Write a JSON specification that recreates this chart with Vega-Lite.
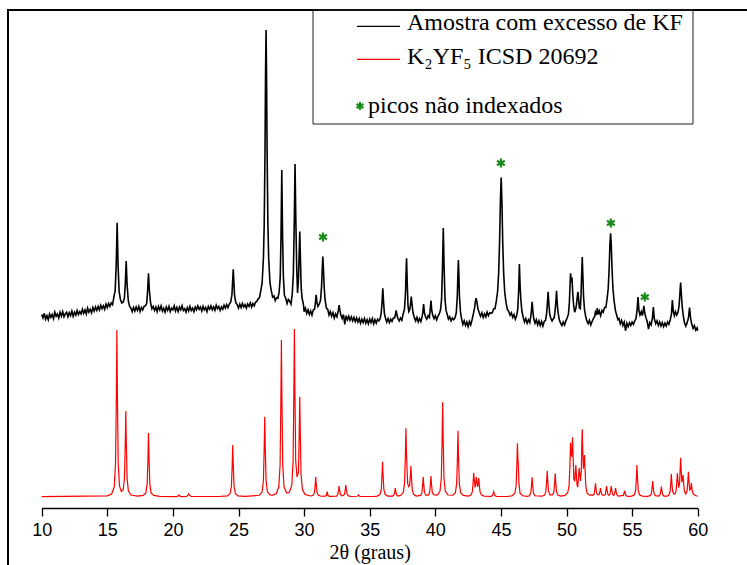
{
  "$schema": "https://vega.github.io/schema/vega-lite/v6.json",
  "width": 739,
  "height": 555,
  "autosize": {"type": "none"},
  "padding": {"left": 8, "top": 10, "right": 0, "bottom": 0},
  "background": "white",
  "config": {
    "view": {"stroke": "black", "strokeWidth": 2, "strokeDash": [739, 1294, 556]},
    "font": "Liberation Serif"
  },
  "datasets": {
    "amostra": [
      {"tt":10.0,"I":47.5},{"tt":10.1,"I":46.9},{"tt":10.2,"I":47.7},{"tt":10.3,"I":46.7},{"tt":10.4,"I":47.3},{"tt":10.5,"I":46.6},{"tt":10.6,"I":47.6},{"tt":10.7,"I":47.0},{"tt":10.8,"I":47.5},{"tt":10.9,"I":46.8},
      {"tt":11.0,"I":47.9},{"tt":11.1,"I":47.2},{"tt":11.2,"I":47.6},{"tt":11.3,"I":46.9},{"tt":11.4,"I":47.9},{"tt":11.5,"I":47.2},{"tt":11.6,"I":48.0},{"tt":11.7,"I":47.1},{"tt":11.8,"I":47.6},{"tt":11.9,"I":47.9},
      {"tt":12.0,"I":47.1},{"tt":12.1,"I":47.8},{"tt":12.2,"I":47.3},{"tt":12.3,"I":48.1},{"tt":12.4,"I":47.2},{"tt":12.5,"I":47.9},{"tt":12.6,"I":47.4},{"tt":12.7,"I":48.2},{"tt":12.8,"I":47.5},{"tt":12.9,"I":48.0},
      {"tt":13.0,"I":47.6},{"tt":13.1,"I":48.4},{"tt":13.2,"I":47.7},{"tt":13.3,"I":48.3},{"tt":13.4,"I":47.6},{"tt":13.5,"I":48.6},{"tt":13.6,"I":47.9},{"tt":13.7,"I":48.4},{"tt":13.8,"I":47.8},{"tt":13.9,"I":48.7},
      {"tt":14.0,"I":48.1},{"tt":14.1,"I":48.8},{"tt":14.2,"I":48.2},{"tt":14.3,"I":48.9},{"tt":14.4,"I":48.3},{"tt":14.5,"I":49.1},{"tt":14.6,"I":48.5},{"tt":14.7,"I":49.0},{"tt":14.8,"I":48.4},{"tt":14.9,"I":49.3},
      {"tt":15.0,"I":48.7},{"tt":15.1,"I":49.4},{"tt":15.2,"I":48.9},{"tt":15.3,"I":49.5},{"tt":15.4,"I":49.2},{"tt":15.5,"I":50.5},{"tt":15.6,"I":51.6},{"tt":15.68,"I":56.1},{"tt":15.75,"I":63.3},{"tt":15.82,"I":56.0},
      {"tt":15.9,"I":51.5},{"tt":16.0,"I":50.1},{"tt":16.1,"I":49.5},{"tt":16.2,"I":49.6},{"tt":16.3,"I":50.3},{"tt":16.37,"I":52.7},{"tt":16.44,"I":56.7},{"tt":16.51,"I":52.6},{"tt":16.6,"I":49.9},{"tt":16.7,"I":48.9},
      {"tt":16.8,"I":48.6},{"tt":16.9,"I":48.0},{"tt":17.0,"I":48.7},{"tt":17.1,"I":48.1},{"tt":17.2,"I":48.8},{"tt":17.3,"I":48.2},{"tt":17.4,"I":48.9},{"tt":17.5,"I":48.0},{"tt":17.6,"I":48.7},{"tt":17.7,"I":48.3},
      {"tt":17.8,"I":48.9},{"tt":17.9,"I":49.0},{"tt":18.0,"I":49.4},{"tt":18.07,"I":51.5},{"tt":18.14,"I":54.6},{"tt":18.21,"I":51.5},{"tt":18.3,"I":49.5},{"tt":18.4,"I":48.5},{"tt":18.5,"I":48.9},{"tt":18.6,"I":48.2},
      {"tt":18.7,"I":48.8},{"tt":18.8,"I":48.0},{"tt":18.9,"I":48.9},{"tt":19.0,"I":48.3},{"tt":19.1,"I":49.0},{"tt":19.2,"I":48.1},{"tt":19.3,"I":48.6},{"tt":19.4,"I":47.9},{"tt":19.5,"I":48.8},{"tt":19.6,"I":48.2},
      {"tt":19.7,"I":48.9},{"tt":19.8,"I":48.0},{"tt":19.9,"I":48.6},{"tt":20.0,"I":48.3},{"tt":20.1,"I":49.0},{"tt":20.2,"I":48.1},{"tt":20.3,"I":48.7},{"tt":20.4,"I":48.0},{"tt":20.5,"I":48.8},{"tt":20.6,"I":48.3},
      {"tt":20.7,"I":49.0},{"tt":20.8,"I":48.2},{"tt":20.9,"I":48.5},{"tt":21.0,"I":47.9},{"tt":21.1,"I":48.7},{"tt":21.2,"I":48.1},{"tt":21.3,"I":48.9},{"tt":21.4,"I":48.2},{"tt":21.5,"I":48.6},{"tt":21.6,"I":48.0},
      {"tt":21.7,"I":48.8},{"tt":21.8,"I":48.3},{"tt":21.9,"I":49.0},{"tt":22.0,"I":48.4},{"tt":22.1,"I":48.8},{"tt":22.2,"I":48.1},{"tt":22.3,"I":48.9},{"tt":22.4,"I":48.3},{"tt":22.5,"I":48.7},{"tt":22.6,"I":48.0},
      {"tt":22.7,"I":48.9},{"tt":22.8,"I":48.4},{"tt":22.9,"I":49.0},{"tt":23.0,"I":48.3},{"tt":23.1,"I":48.8},{"tt":23.2,"I":48.2},{"tt":23.3,"I":49.1},{"tt":23.4,"I":48.5},{"tt":23.5,"I":48.9},{"tt":23.6,"I":48.2},
      {"tt":23.7,"I":48.8},{"tt":23.8,"I":48.4},{"tt":23.9,"I":49.1},{"tt":24.0,"I":48.6},{"tt":24.1,"I":49.2},{"tt":24.2,"I":48.7},{"tt":24.3,"I":49.3},{"tt":24.4,"I":49.6},{"tt":24.5,"I":50.9},{"tt":24.55,"I":53.1},
      {"tt":24.6,"I":55.3},{"tt":24.65,"I":53.0},{"tt":24.7,"I":50.8},{"tt":24.8,"I":49.5},{"tt":24.9,"I":49.2},{"tt":25.0,"I":48.6},{"tt":25.1,"I":49.3},{"tt":25.2,"I":48.7},{"tt":25.3,"I":49.4},{"tt":25.4,"I":48.8},
      {"tt":25.5,"I":49.2},{"tt":25.6,"I":48.6},{"tt":25.7,"I":49.3},{"tt":25.8,"I":48.9},{"tt":25.9,"I":49.5},{"tt":26.0,"I":48.8},{"tt":26.1,"I":49.4},{"tt":26.2,"I":49.0},{"tt":26.3,"I":49.6},{"tt":26.4,"I":49.8},
      {"tt":26.5,"I":50.2},{"tt":26.6,"I":50.4},{"tt":26.7,"I":51.6},{"tt":26.8,"I":52.9},{"tt":26.9,"I":57.3},{"tt":26.96,"I":63.0},{"tt":27.02,"I":75.6},{"tt":27.06,"I":88.7},{"tt":27.1,"I":96.55},{"tt":27.14,"I":88.6},
      {"tt":27.18,"I":75.5},{"tt":27.24,"I":63.0},{"tt":27.3,"I":57.2},{"tt":27.4,"I":52.9},{"tt":27.5,"I":51.6},{"tt":27.6,"I":50.5},{"tt":27.7,"I":50.7},{"tt":27.8,"I":49.9},{"tt":27.9,"I":50.4},{"tt":28.0,"I":50.3},
      {"tt":28.1,"I":51.4},{"tt":28.18,"I":53.9},{"tt":28.24,"I":60.9},{"tt":28.3,"I":72.4},{"tt":28.36,"I":60.9},{"tt":28.42,"I":54.0},{"tt":28.5,"I":50.8},{"tt":28.6,"I":50.3},{"tt":28.7,"I":49.4},{"tt":28.8,"I":50.1},
      {"tt":28.9,"I":49.8},{"tt":29.0,"I":49.3},{"tt":29.1,"I":51.1},{"tt":29.18,"I":54.5},{"tt":29.25,"I":63.2},{"tt":29.31,"I":73.45},{"tt":29.37,"I":63.8},{"tt":29.44,"I":55.3},{"tt":29.5,"I":51.2},{"tt":29.57,"I":53.5},
      {"tt":29.62,"I":57.6},{"tt":29.67,"I":61.8},{"tt":29.72,"I":57.2},{"tt":29.78,"I":52.0},{"tt":29.85,"I":50.3},{"tt":29.95,"I":49.2},{"tt":30.0,"I":48.0},{"tt":30.1,"I":48.6},{"tt":30.2,"I":47.7},{"tt":30.3,"I":48.3},
      {"tt":30.4,"I":47.5},{"tt":30.5,"I":48.1},{"tt":30.6,"I":47.4},{"tt":30.7,"I":48.3},{"tt":30.8,"I":48.4},{"tt":30.86,"I":49.5},{"tt":30.92,"I":50.9},{"tt":30.98,"I":49.6},{"tt":31.05,"I":48.9},{"tt":31.15,"I":49.3},
      {"tt":31.25,"I":49.9},{"tt":31.33,"I":52.3},{"tt":31.38,"I":55.2},{"tt":31.43,"I":57.5},{"tt":31.48,"I":55.1},{"tt":31.53,"I":52.2},{"tt":31.6,"I":50.0},{"tt":31.7,"I":48.6},{"tt":31.8,"I":48.4},{"tt":31.9,"I":47.4},
      {"tt":32.0,"I":48.0},{"tt":32.1,"I":47.2},{"tt":32.2,"I":47.8},{"tt":32.3,"I":46.9},{"tt":32.4,"I":47.6},{"tt":32.5,"I":47.1},{"tt":32.55,"I":47.6},{"tt":32.61,"I":48.2},{"tt":32.67,"I":49.1},{"tt":32.73,"I":48.2},
      {"tt":32.8,"I":47.4},{"tt":32.9,"I":46.8},{"tt":33.0,"I":47.5},{"tt":33.1,"I":45.8},{"tt":33.2,"I":47.3},{"tt":33.3,"I":46.6},{"tt":33.4,"I":47.2},{"tt":33.5,"I":46.5},{"tt":33.6,"I":47.1},{"tt":33.7,"I":46.4},
      {"tt":33.8,"I":47.0},{"tt":33.9,"I":46.3},{"tt":34.0,"I":46.9},{"tt":34.1,"I":46.2},{"tt":34.2,"I":46.8},{"tt":34.3,"I":46.0},{"tt":34.4,"I":46.7},{"tt":34.5,"I":46.1},{"tt":34.6,"I":46.8},{"tt":34.7,"I":46.0},
      {"tt":34.8,"I":46.6},{"tt":34.9,"I":45.9},{"tt":35.0,"I":46.7},{"tt":35.1,"I":46.1},{"tt":35.2,"I":46.8},{"tt":35.3,"I":45.9},{"tt":35.4,"I":46.6},{"tt":35.5,"I":46.0},{"tt":35.6,"I":46.7},{"tt":35.7,"I":46.4},
      {"tt":35.8,"I":46.8},{"tt":35.88,"I":47.8},{"tt":35.94,"I":49.6},{"tt":36.0,"I":52.0},{"tt":36.06,"I":49.5},{"tt":36.12,"I":47.7},{"tt":36.2,"I":46.9},{"tt":36.3,"I":46.2},{"tt":36.4,"I":46.8},{"tt":36.5,"I":46.1},
      {"tt":36.6,"I":46.7},{"tt":36.7,"I":46.3},{"tt":36.8,"I":46.9},{"tt":36.9,"I":46.9},{"tt":36.96,"I":47.5},{"tt":37.02,"I":48.2},{"tt":37.08,"I":47.4},{"tt":37.15,"I":46.8},{"tt":37.25,"I":46.4},{"tt":37.35,"I":46.9},
      {"tt":37.45,"I":46.5},{"tt":37.55,"I":47.6},{"tt":37.65,"I":48.4},{"tt":37.73,"I":51.3},{"tt":37.77,"I":54.7},{"tt":37.81,"I":57.2},{"tt":37.86,"I":53.0},{"tt":37.92,"I":49.0},{"tt":37.98,"I":48.0},{"tt":38.05,"I":48.3},
      {"tt":38.11,"I":49.3},{"tt":38.17,"I":50.6},{"tt":38.23,"I":49.2},{"tt":38.3,"I":47.8},{"tt":38.4,"I":47.0},{"tt":38.5,"I":46.4},{"tt":38.6,"I":47.0},{"tt":38.7,"I":46.2},{"tt":38.8,"I":46.8},{"tt":38.9,"I":46.3},
      {"tt":39.0,"I":47.2},{"tt":39.05,"I":47.9},{"tt":39.11,"I":49.3},{"tt":39.17,"I":47.8},{"tt":39.25,"I":47.1},{"tt":39.35,"I":46.7},{"tt":39.45,"I":47.3},{"tt":39.55,"I":47.0},{"tt":39.61,"I":48.3},{"tt":39.67,"I":49.9},
      {"tt":39.73,"I":48.2},{"tt":39.8,"I":47.4},{"tt":39.9,"I":46.8},{"tt":40.0,"I":47.3},{"tt":40.1,"I":46.6},{"tt":40.2,"I":47.2},{"tt":40.3,"I":47.6},{"tt":40.4,"I":48.3},{"tt":40.48,"I":50.2},{"tt":40.55,"I":55.8},
      {"tt":40.61,"I":62.4},{"tt":40.67,"I":55.7},{"tt":40.74,"I":50.1},{"tt":40.82,"I":48.2},{"tt":40.92,"I":47.4},{"tt":41.0,"I":46.7},{"tt":41.1,"I":47.1},{"tt":41.2,"I":46.4},{"tt":41.3,"I":46.9},{"tt":41.4,"I":46.6},
      {"tt":41.5,"I":46.9},{"tt":41.6,"I":47.8},{"tt":41.68,"I":50.8},{"tt":41.72,"I":54.2},{"tt":41.76,"I":56.9},{"tt":41.8,"I":54.1},{"tt":41.84,"I":50.7},{"tt":41.92,"I":47.9},{"tt":42.0,"I":46.8},{"tt":42.1,"I":45.8},
      {"tt":42.2,"I":46.4},{"tt":42.3,"I":45.6},{"tt":42.4,"I":46.2},{"tt":42.5,"I":45.4},{"tt":42.6,"I":46.3},{"tt":42.7,"I":45.7},{"tt":42.8,"I":46.6},{"tt":42.9,"I":47.6},{"tt":43.0,"I":48.7},{"tt":43.05,"I":49.7},
      {"tt":43.11,"I":50.3},{"tt":43.18,"I":49.6},{"tt":43.25,"I":48.5},{"tt":43.35,"I":47.8},{"tt":43.45,"I":47.2},{"tt":43.55,"I":47.8},{"tt":43.65,"I":47.0},{"tt":43.75,"I":47.6},{"tt":43.85,"I":47.1},{"tt":43.95,"I":47.9},
      {"tt":44.05,"I":47.3},{"tt":44.15,"I":47.8},{"tt":44.25,"I":47.7},{"tt":44.35,"I":47.8},{"tt":44.45,"I":48.5},{"tt":44.55,"I":48.5},{"tt":44.65,"I":49.8},{"tt":44.75,"I":51.5},{"tt":44.83,"I":54.7},{"tt":44.9,"I":60.0},
      {"tt":44.96,"I":66.8},{"tt":45.02,"I":71.1},{"tt":45.08,"I":66.7},{"tt":45.14,"I":59.9},{"tt":45.21,"I":54.6},{"tt":45.29,"I":51.4},{"tt":45.39,"I":49.5},{"tt":45.49,"I":48.4},{"tt":45.6,"I":48.0},{"tt":45.7,"I":47.4},
      {"tt":45.8,"I":47.8},{"tt":45.9,"I":47.0},{"tt":46.0,"I":47.5},{"tt":46.1,"I":46.7},{"tt":46.2,"I":47.3},{"tt":46.28,"I":48.3},{"tt":46.35,"I":51.4},{"tt":46.41,"I":56.2},{"tt":46.47,"I":52.0},{"tt":46.53,"I":49.8},
      {"tt":46.6,"I":48.1},{"tt":46.7,"I":47.0},{"tt":46.8,"I":46.2},{"tt":46.9,"I":46.8},{"tt":47.0,"I":46.0},{"tt":47.1,"I":46.6},{"tt":47.2,"I":46.1},{"tt":47.26,"I":46.9},{"tt":47.32,"I":48.0},{"tt":47.38,"I":49.7},
      {"tt":47.44,"I":48.0},{"tt":47.5,"I":46.8},{"tt":47.6,"I":46.0},{"tt":47.7,"I":46.6},{"tt":47.8,"I":45.7},{"tt":47.9,"I":46.4},{"tt":48.0,"I":45.6},{"tt":48.1,"I":46.3},{"tt":48.2,"I":45.5},{"tt":48.3,"I":46.3},
      {"tt":48.4,"I":46.5},{"tt":48.48,"I":47.6},{"tt":48.54,"I":49.3},{"tt":48.6,"I":51.4},{"tt":48.66,"I":49.2},{"tt":48.72,"I":47.6},{"tt":48.8,"I":46.9},{"tt":48.9,"I":46.4},{"tt":49.0,"I":46.8},{"tt":49.06,"I":46.9},
      {"tt":49.12,"I":47.9},{"tt":49.18,"I":49.4},{"tt":49.24,"I":51.6},{"tt":49.3,"I":49.2},{"tt":49.36,"I":47.8},{"tt":49.45,"I":46.6},{"tt":49.55,"I":46.0},{"tt":49.65,"I":45.6},{"tt":49.75,"I":46.2},{"tt":49.85,"I":45.7},
      {"tt":49.95,"I":46.4},{"tt":50.05,"I":46.9},{"tt":50.15,"I":47.6},{"tt":50.22,"I":49.6},{"tt":50.27,"I":52.6},{"tt":50.31,"I":54.6},{"tt":50.36,"I":53.4},{"tt":50.42,"I":53.6},{"tt":50.48,"I":51.0},{"tt":50.55,"I":49.0},
      {"tt":50.62,"I":47.9},{"tt":50.7,"I":48.4},{"tt":50.76,"I":49.2},{"tt":50.82,"I":50.5},{"tt":50.87,"I":51.4},{"tt":50.92,"I":50.2},{"tt":50.98,"I":48.6},{"tt":51.05,"I":48.5},{"tt":51.1,"I":50.5},{"tt":51.15,"I":54.0},
      {"tt":51.2,"I":57.4},{"tt":51.25,"I":54.0},{"tt":51.3,"I":50.6},{"tt":51.37,"I":48.4},{"tt":51.45,"I":47.3},{"tt":51.55,"I":46.4},{"tt":51.65,"I":45.9},{"tt":51.75,"I":46.5},{"tt":51.85,"I":45.7},{"tt":51.95,"I":46.3},
      {"tt":52.05,"I":46.8},{"tt":52.15,"I":47.2},{"tt":52.2,"I":47.9},{"tt":52.28,"I":47.4},{"tt":52.35,"I":48.6},{"tt":52.42,"I":47.5},{"tt":52.5,"I":48.1},{"tt":52.6,"I":47.3},{"tt":52.7,"I":48.2},{"tt":52.8,"I":47.9},
      {"tt":52.9,"I":48.7},{"tt":53.0,"I":48.7},{"tt":53.1,"I":50.3},{"tt":53.18,"I":52.0},{"tt":53.25,"I":55.4},{"tt":53.31,"I":59.6},{"tt":53.36,"I":61.5},{"tt":53.41,"I":59.6},{"tt":53.47,"I":55.4},{"tt":53.54,"I":52.0},
      {"tt":53.62,"I":50.0},{"tt":53.72,"I":48.3},{"tt":53.82,"I":47.4},{"tt":53.92,"I":46.6},{"tt":54.0,"I":46.8},{"tt":54.1,"I":45.9},{"tt":54.2,"I":46.5},{"tt":54.3,"I":45.6},{"tt":54.4,"I":46.2},{"tt":54.5,"I":44.7},
      {"tt":54.6,"I":46.0},{"tt":54.7,"I":45.4},{"tt":54.8,"I":46.1},{"tt":54.9,"I":45.6},{"tt":55.0,"I":46.2},{"tt":55.1,"I":45.8},{"tt":55.2,"I":46.4},{"tt":55.3,"I":46.8},{"tt":55.38,"I":48.3},{"tt":55.45,"I":50.5},
      {"tt":55.52,"I":48.2},{"tt":55.6,"I":47.4},{"tt":55.7,"I":48.0},{"tt":55.78,"I":47.3},{"tt":55.84,"I":48.0},{"tt":55.9,"I":49.0},{"tt":55.96,"I":47.8},{"tt":56.05,"I":47.0},{"tt":56.15,"I":46.3},{"tt":56.25,"I":45.0},
      {"tt":56.35,"I":46.1},{"tt":56.45,"I":45.7},{"tt":56.55,"I":46.9},{"tt":56.62,"I":48.8},{"tt":56.69,"I":46.8},{"tt":56.8,"I":45.9},{"tt":56.9,"I":46.4},{"tt":57.0,"I":45.6},{"tt":57.1,"I":46.2},{"tt":57.2,"I":45.5},
      {"tt":57.3,"I":46.1},{"tt":57.4,"I":45.4},{"tt":57.5,"I":46.0},{"tt":57.6,"I":45.5},{"tt":57.7,"I":46.2},{"tt":57.8,"I":45.8},{"tt":57.9,"I":46.5},{"tt":58.0,"I":47.6},{"tt":58.07,"I":50.0},{"tt":58.14,"I":48.0},
      {"tt":58.22,"I":47.3},{"tt":58.3,"I":48.0},{"tt":58.4,"I":47.4},{"tt":58.5,"I":47.9},{"tt":58.58,"I":49.0},{"tt":58.64,"I":51.0},{"tt":58.7,"I":53.0},{"tt":58.76,"I":50.8},{"tt":58.82,"I":48.8},{"tt":58.9,"I":47.3},
      {"tt":59.0,"I":46.0},{"tt":59.1,"I":45.5},{"tt":59.2,"I":46.1},{"tt":59.3,"I":47.0},{"tt":59.38,"I":48.7},{"tt":59.46,"I":46.8},{"tt":59.55,"I":45.8},{"tt":59.65,"I":45.1},{"tt":59.75,"I":45.6},{"tt":59.85,"I":44.8},
      {"tt":59.95,"I":45.2},{"tt":60.0,"I":44.7}
    ],
    "icsd": [
      {"tt":10.0,"I":16.1},{"tt":15.0,"I":16.23},{"tt":15.33,"I":16.55},{"tt":15.53,"I":17.8},{"tt":15.63,"I":21.9},{"tt":15.69,"I":33.6},{"tt":15.73,"I":44.83},{"tt":15.77,"I":33.7},{"tt":15.83,"I":21.95},{"tt":15.93,"I":17.96},
      {"tt":16.07,"I":17.0},{"tt":16.21,"I":17.28},{"tt":16.31,"I":19.26},{"tt":16.37,"I":25.3},{"tt":16.41,"I":30.86},{"tt":16.45,"I":25.3},{"tt":16.51,"I":19.15},{"tt":16.61,"I":17.06},{"tt":16.81,"I":16.38},{"tt":17.3,"I":16.2},
      {"tt":17.74,"I":16.3},{"tt":17.94,"I":16.75},{"tt":18.04,"I":18.3},{"tt":18.1,"I":22.8},{"tt":18.14,"I":27.07},{"tt":18.18,"I":22.8},{"tt":18.24,"I":18.3},{"tt":18.34,"I":16.75},{"tt":18.54,"I":16.3},{"tt":19.0,"I":16.15},
      {"tt":20.3,"I":16.1},{"tt":20.42,"I":16.25},{"tt":20.46,"I":16.38},{"tt":20.5,"I":16.25},{"tt":20.6,"I":16.1},{"tt":21.05,"I":16.12},{"tt":21.15,"I":16.35},{"tt":21.2,"I":16.55},{"tt":21.25,"I":16.35},{"tt":21.4,"I":16.12},
      {"tt":23.5,"I":16.12},{"tt":24.16,"I":16.23},{"tt":24.36,"I":16.63},{"tt":24.46,"I":17.88},{"tt":24.52,"I":21.53},{"tt":24.56,"I":25.0},{"tt":24.6,"I":21.53},{"tt":24.66,"I":17.88},{"tt":24.76,"I":16.63},{"tt":24.96,"I":16.23},
      {"tt":25.5,"I":16.15},{"tt":26.6,"I":16.33},{"tt":26.8,"I":16.94},{"tt":26.9,"I":18.9},{"tt":26.96,"I":24.54},{"tt":27.0,"I":29.88},{"tt":27.04,"I":24.55},{"tt":27.1,"I":18.95},{"tt":27.2,"I":16.98},{"tt":27.4,"I":16.4},
      {"tt":27.6,"I":16.37},{"tt":27.87,"I":16.6},{"tt":28.07,"I":17.75},{"tt":28.17,"I":21.56},{"tt":28.23,"I":32.66},{"tt":28.27,"I":43.1},{"tt":28.31,"I":32.7},{"tt":28.37,"I":21.7},{"tt":28.47,"I":17.8},{"tt":28.67,"I":16.76},
      {"tt":28.86,"I":16.79},{"tt":29.06,"I":18.03},{"tt":29.16,"I":22.13},{"tt":29.22,"I":34.0},{"tt":29.26,"I":45.0},{"tt":29.3,"I":34.2},{"tt":29.36,"I":22.3},{"tt":29.46,"I":19.5},{"tt":29.57,"I":20.27},{"tt":29.63,"I":27.1},
      {"tt":29.67,"I":33.33},{"tt":29.71,"I":26.95},{"tt":29.77,"I":19.85},{"tt":29.87,"I":17.3},{"tt":30.07,"I":16.48},{"tt":30.49,"I":16.21},{"tt":30.69,"I":16.32},{"tt":30.79,"I":16.78},{"tt":30.85,"I":18.16},{"tt":30.89,"I":19.48},
      {"tt":30.93,"I":18.16},{"tt":30.99,"I":16.78},{"tt":31.09,"I":16.32},{"tt":31.29,"I":16.16},{"tt":31.62,"I":16.17},{"tt":31.7,"I":16.3},{"tt":31.76,"I":16.95},{"tt":31.82,"I":16.3},{"tt":31.92,"I":16.15},{"tt":32.47,"I":16.2},
      {"tt":32.57,"I":16.47},{"tt":32.63,"I":17.2},{"tt":32.67,"I":17.93},{"tt":32.71,"I":17.2},{"tt":32.77,"I":16.47},{"tt":32.87,"I":16.25},{"tt":32.98,"I":16.3},{"tt":33.08,"I":16.5},{"tt":33.14,"I":17.32},{"tt":33.18,"I":18.1},
      {"tt":33.22,"I":17.32},{"tt":33.28,"I":16.5},{"tt":33.38,"I":16.22},{"tt":33.6,"I":16.12},{"tt":34.05,"I":16.16},{"tt":34.11,"I":16.26},{"tt":34.15,"I":16.38},{"tt":34.19,"I":16.26},{"tt":34.25,"I":16.15},{"tt":35.3,"I":16.12},
      {"tt":35.58,"I":16.19},{"tt":35.78,"I":16.46},{"tt":35.88,"I":17.3},{"tt":35.94,"I":19.77},{"tt":35.98,"I":22.12},{"tt":36.02,"I":19.77},{"tt":36.08,"I":17.3},{"tt":36.18,"I":16.46},{"tt":36.38,"I":16.19},{"tt":36.75,"I":16.2},
      {"tt":36.85,"I":16.4},{"tt":36.91,"I":17.0},{"tt":36.95,"I":17.59},{"tt":36.99,"I":17.0},{"tt":37.05,"I":16.4},{"tt":37.15,"I":16.2},{"tt":37.36,"I":16.3},{"tt":37.56,"I":16.84},{"tt":37.66,"I":18.5},{"tt":37.72,"I":23.36},
      {"tt":37.76,"I":27.88},{"tt":37.8,"I":24.0},{"tt":37.84,"I":21.0},{"tt":37.9,"I":18.3},{"tt":37.98,"I":17.8},{"tt":38.04,"I":18.0},{"tt":38.1,"I":19.57},{"tt":38.14,"I":21.38},{"tt":38.18,"I":19.5},{"tt":38.24,"I":17.3},
      {"tt":38.34,"I":16.5},{"tt":38.54,"I":16.2},{"tt":38.88,"I":16.3},{"tt":38.98,"I":16.78},{"tt":39.04,"I":18.16},{"tt":39.08,"I":19.48},{"tt":39.12,"I":18.16},{"tt":39.18,"I":16.78},{"tt":39.28,"I":16.35},{"tt":39.47,"I":16.35},
      {"tt":39.57,"I":16.85},{"tt":39.63,"I":18.27},{"tt":39.67,"I":19.66},{"tt":39.71,"I":18.27},{"tt":39.77,"I":16.85},{"tt":39.87,"I":16.45},{"tt":40.16,"I":16.38},{"tt":40.36,"I":17.06},{"tt":40.46,"I":19.35},{"tt":40.52,"I":26.02},
      {"tt":40.56,"I":32.36},{"tt":40.6,"I":26.0},{"tt":40.66,"I":19.35},{"tt":40.76,"I":17.06},{"tt":40.96,"I":16.38},{"tt":41.33,"I":16.34},{"tt":41.53,"I":16.77},{"tt":41.63,"I":18.37},{"tt":41.69,"I":23.04},{"tt":41.73,"I":27.47},
      {"tt":41.77,"I":23.04},{"tt":41.83,"I":18.37},{"tt":41.93,"I":16.77},{"tt":42.13,"I":16.3},{"tt":42.53,"I":16.2},{"tt":42.73,"I":16.4},{"tt":42.83,"I":17.0},{"tt":42.89,"I":18.8},{"tt":42.93,"I":20.22},{"tt":42.97,"I":19.0},
      {"tt":43.03,"I":17.7},{"tt":43.09,"I":18.68},{"tt":43.13,"I":19.48},{"tt":43.17,"I":18.69},{"tt":43.22,"I":17.76},{"tt":43.27,"I":18.44},{"tt":43.31,"I":19.31},{"tt":43.35,"I":18.2},{"tt":43.41,"I":16.94},{"tt":43.51,"I":16.4},
      {"tt":43.71,"I":16.2},{"tt":44.25,"I":16.15},{"tt":44.35,"I":16.27},{"tt":44.41,"I":16.62},{"tt":44.45,"I":16.95},{"tt":44.49,"I":16.62},{"tt":44.55,"I":16.27},{"tt":44.65,"I":16.15},{"tt":45.5,"I":16.12},{"tt":45.86,"I":16.24},
      {"tt":46.06,"I":16.64},{"tt":46.16,"I":17.94},{"tt":46.22,"I":21.7},{"tt":46.26,"I":25.29},{"tt":46.3,"I":22.5},{"tt":46.33,"I":21.6},{"tt":46.38,"I":18.2},{"tt":46.46,"I":16.7},{"tt":46.66,"I":16.25},{"tt":47.0,"I":16.15},
      {"tt":47.18,"I":16.25},{"tt":47.28,"I":16.77},{"tt":47.34,"I":18.13},{"tt":47.38,"I":19.43},{"tt":47.42,"I":18.13},{"tt":47.48,"I":16.77},{"tt":47.58,"I":16.25},{"tt":48.13,"I":16.17},{"tt":48.33,"I":16.36},{"tt":48.43,"I":17.0},
      {"tt":48.49,"I":18.83},{"tt":48.53,"I":20.57},{"tt":48.57,"I":18.83},{"tt":48.63,"I":17.04},{"tt":48.74,"I":16.4},{"tt":48.94,"I":16.41},{"tt":49.04,"I":16.94},{"tt":49.1,"I":18.55},{"tt":49.14,"I":20.12},{"tt":49.18,"I":18.55},
      {"tt":49.24,"I":16.94},{"tt":49.34,"I":16.36},{"tt":49.54,"I":16.18},{"tt":49.9,"I":16.32},{"tt":50.1,"I":16.84},{"tt":50.2,"I":18.1},{"tt":50.26,"I":21.4},{"tt":50.31,"I":25.4},{"tt":50.35,"I":23.6},{"tt":50.39,"I":23.0},
      {"tt":50.42,"I":24.1},{"tt":50.46,"I":26.33},{"tt":50.5,"I":23.24},{"tt":50.56,"I":19.14},{"tt":50.63,"I":18.74},{"tt":50.67,"I":20.3},{"tt":50.71,"I":21.55},{"tt":50.75,"I":20.1},{"tt":50.8,"I":18.16},{"tt":50.86,"I":17.74},
      {"tt":50.93,"I":19.9},{"tt":50.97,"I":21.03},{"tt":51.01,"I":20.0},{"tt":51.07,"I":18.8},{"tt":51.13,"I":20.8},{"tt":51.17,"I":25.3},{"tt":51.2,"I":27.71},{"tt":51.24,"I":24.1},{"tt":51.29,"I":20.9},{"tt":51.33,"I":22.0},
      {"tt":51.37,"I":23.28},{"tt":51.41,"I":21.1},{"tt":51.47,"I":17.9},{"tt":51.57,"I":16.7},{"tt":51.77,"I":16.35},{"tt":51.91,"I":16.4},{"tt":52.01,"I":16.34},{"tt":52.11,"I":16.56},{"tt":52.17,"I":17.5},{"tt":52.21,"I":18.4},
      {"tt":52.25,"I":17.5},{"tt":52.31,"I":16.6},{"tt":52.41,"I":16.4},{"tt":52.49,"I":16.5},{"tt":52.55,"I":17.0},{"tt":52.59,"I":17.59},{"tt":52.63,"I":17.0},{"tt":52.69,"I":16.5},{"tt":52.79,"I":16.3},{"tt":52.95,"I":16.4},
      {"tt":53.01,"I":17.2},{"tt":53.05,"I":17.93},{"tt":53.09,"I":17.2},{"tt":53.15,"I":16.5},{"tt":53.25,"I":16.3},{"tt":53.31,"I":16.5},{"tt":53.37,"I":17.2},{"tt":53.41,"I":17.93},{"tt":53.45,"I":17.2},{"tt":53.51,"I":16.5},
      {"tt":53.6,"I":16.3},{"tt":53.64,"I":16.45},{"tt":53.7,"I":17.0},{"tt":53.74,"I":17.59},{"tt":53.78,"I":17.0},{"tt":53.84,"I":16.45},{"tt":53.94,"I":16.2},{"tt":54.33,"I":16.3},{"tt":54.39,"I":16.72},{"tt":54.43,"I":17.12},
      {"tt":54.47,"I":16.72},{"tt":54.53,"I":16.3},{"tt":54.63,"I":16.15},{"tt":54.97,"I":16.18},{"tt":55.17,"I":16.42},{"tt":55.27,"I":17.19},{"tt":55.33,"I":19.42},{"tt":55.37,"I":21.55},{"tt":55.41,"I":19.42},{"tt":55.47,"I":17.19},
      {"tt":55.57,"I":16.42},{"tt":55.77,"I":16.18},{"tt":56.17,"I":16.14},{"tt":56.37,"I":16.26},{"tt":56.47,"I":16.64},{"tt":56.53,"I":17.74},{"tt":56.57,"I":18.79},{"tt":56.61,"I":17.74},{"tt":56.67,"I":16.64},{"tt":56.77,"I":16.26},
      {"tt":57.03,"I":16.2},{"tt":57.13,"I":16.44},{"tt":57.19,"I":17.14},{"tt":57.23,"I":17.81},{"tt":57.27,"I":17.14},{"tt":57.33,"I":16.44},{"tt":57.43,"I":16.2},{"tt":57.69,"I":16.18},{"tt":57.79,"I":16.33},{"tt":57.89,"I":16.88},
      {"tt":57.95,"I":18.48},{"tt":57.99,"I":20.0},{"tt":58.03,"I":18.48},{"tt":58.09,"I":16.96},{"tt":58.19,"I":16.53},{"tt":58.29,"I":16.66},{"tt":58.35,"I":17.1},{"tt":58.41,"I":18.75},{"tt":58.45,"I":20.12},{"tt":58.49,"I":18.97},
      {"tt":58.56,"I":17.64},{"tt":58.62,"I":18.47},{"tt":58.66,"I":20.6},{"tt":58.7,"I":22.81},{"tt":58.74,"I":20.77},{"tt":58.79,"I":18.57},{"tt":58.84,"I":19.14},{"tt":58.88,"I":19.83},{"tt":58.92,"I":18.71},{"tt":58.98,"I":17.11},
      {"tt":59.09,"I":16.55},{"tt":59.19,"I":17.11},{"tt":59.25,"I":18.8},{"tt":59.29,"I":20.4},{"tt":59.33,"I":18.9},{"tt":59.39,"I":17.26},{"tt":59.46,"I":17.4},{"tt":59.52,"I":18.45},{"tt":59.58,"I":17.1},{"tt":59.68,"I":16.5},
      {"tt":59.88,"I":16.25},{"tt":60.0,"I":16.2}
    ],
    "asteriscos": [
      {"tt":31.44,"I":60.86},{"tt":45.0,"I":73.62},{"tt":53.38,"I":63.28},{"tt":55.97,"I":50.52}
    ]
  },
  "layer": [
    {
      "data": {"name": "amostra"},
      "mark": {"type": "line", "color": "black", "strokeWidth": 1.6},
      "encoding": {
        "x": {
          "field": "tt", "type": "quantitative",
          "scale": {"domain": [10, 60], "range": [33.7, 689.7], "nice": false, "zero": false},
          "axis": {
            "orient": "bottom",
            "offset": -57,
            "values": [10, 12.5, 15, 17.5, 20, 22.5, 25, 27.5, 30, 32.5, 35, 37.5, 40, 42.5, 45, 47.5, 50, 52.5, 55, 57.5, 60],
            "labelExpr": "datum.value % 5 === 0 ? datum.label : ''",
            "tickSize": {"condition": {"test": "datum.value % 5 === 0", "value": 8}, "value": 4},
            "tickWidth": 1.3,
            "tickColor": "black",
            "domainColor": "black",
            "domainWidth": 1.5,
            "grid": false,
            "labelFont": "Liberation Sans",
            "labelFontSize": 18,
            "labelColor": "black",
            "labelPadding": 5,
            "labelFlush": false,
            "labelOverlap": false,
            "labelBound": false,
            "title": "2θ (graus)",
            "titleFont": "Liberation Serif",
            "titleFontSize": 20,
            "titleFontWeight": "normal",
            "titleColor": "black",
            "titleBaseline": "alphabetic",
            "titleY": 50
          }
        },
        "y": {
          "field": "I", "type": "quantitative",
          "scale": {"domain": [4.31, 100], "nice": false, "zero": false},
          "axis": null
        }
      }
    },
    {
      "data": {"name": "icsd"},
      "mark": {"type": "line", "color": "#ff0000", "strokeWidth": 1.2},
      "encoding": {
        "x": {"field": "tt", "type": "quantitative"},
        "y": {"field": "I", "type": "quantitative"}
      }
    },
    {
      "data": {"name": "asteriscos"},
      "mark": {"type": "point", "shape": "M0,-1L0,1M-0.87,-0.5L0.87,0.5M-0.87,0.5L0.87,-0.5", "filled": false, "stroke": "#1a8a1a", "strokeWidth": 2.2, "size": 80, "opacity": 1},
      "encoding": {
        "x": {"field": "tt", "type": "quantitative"},
        "y": {"field": "I", "type": "quantitative"}
      }
    },
    {
      "data": {"values": [{"caixa": "legenda"}]},
      "mark": {"type": "rect", "fill": null, "fillOpacity": 0, "stroke": "#222222", "strokeWidth": 1},
      "encoding": {
        "x": {"datum": 30.68, "type": "quantitative"},
        "x2": {"datum": 59.64},
        "y": {"datum": 80.34, "type": "quantitative"},
        "y2": {"datum": 100}
      }
    },
    {
      "data": {"values": [{"serie": "Amostra com excesso de KF"}]},
      "mark": {"type": "rule", "color": "black", "strokeWidth": 1.3},
      "encoding": {
        "x": {"datum": 34.03, "type": "quantitative"},
        "x2": {"datum": 37.31},
        "y": {"datum": 97.16, "type": "quantitative"}
      }
    },
    {
      "data": {"values": [{"serie": "K₂YF₅ ICSD 20692"}]},
      "mark": {"type": "rule", "color": "#ff0000", "strokeWidth": 1.3},
      "encoding": {
        "x": {"datum": 34.03, "type": "quantitative"},
        "x2": {"datum": 37.31},
        "y": {"datum": 91.47, "type": "quantitative"}
      }
    },
    {
      "data": {"values": [{"serie": "Amostra com excesso de KF"}]},
      "mark": {"type": "text", "align": "left", "baseline": "alphabetic", "font": "Liberation Serif", "fontSize": 24, "color": "black"},
      "encoding": {
        "x": {"datum": 37.84, "type": "quantitative"},
        "y": {"datum": 96.55, "type": "quantitative"},
        "text": {"field": "serie"}
      }
    },
    {
      "data": {"values": [{"serie": "K₂YF₅ ICSD 20692"}]},
      "mark": {"type": "text", "align": "left", "baseline": "alphabetic", "font": "Liberation Serif", "fontSize": 24, "color": "black"},
      "encoding": {
        "x": {"datum": 37.84, "type": "quantitative"},
        "y": {"datum": 90.69, "type": "quantitative"},
        "text": {"field": "serie"}
      }
    },
    {
      "data": {"values": [{"serie": "picos não indexados"}]},
      "mark": {"type": "point", "shape": "M0,-1L0,1M-0.87,-0.5L0.87,0.5M-0.87,0.5L0.87,-0.5", "filled": false, "stroke": "#1a8a1a", "strokeWidth": 2.2, "size": 64, "opacity": 1},
      "encoding": {
        "x": {"datum": 34.26, "type": "quantitative"},
        "y": {"datum": 83.45, "type": "quantitative"}
      }
    },
    {
      "data": {"values": [{"serie": "picos não indexados"}]},
      "mark": {"type": "text", "align": "left", "baseline": "alphabetic", "font": "Liberation Serif", "fontSize": 24, "color": "black"},
      "encoding": {
        "x": {"datum": 34.87, "type": "quantitative"},
        "y": {"datum": 82.24, "type": "quantitative"},
        "text": {"field": "serie"}
      }
    }
  ]
}
